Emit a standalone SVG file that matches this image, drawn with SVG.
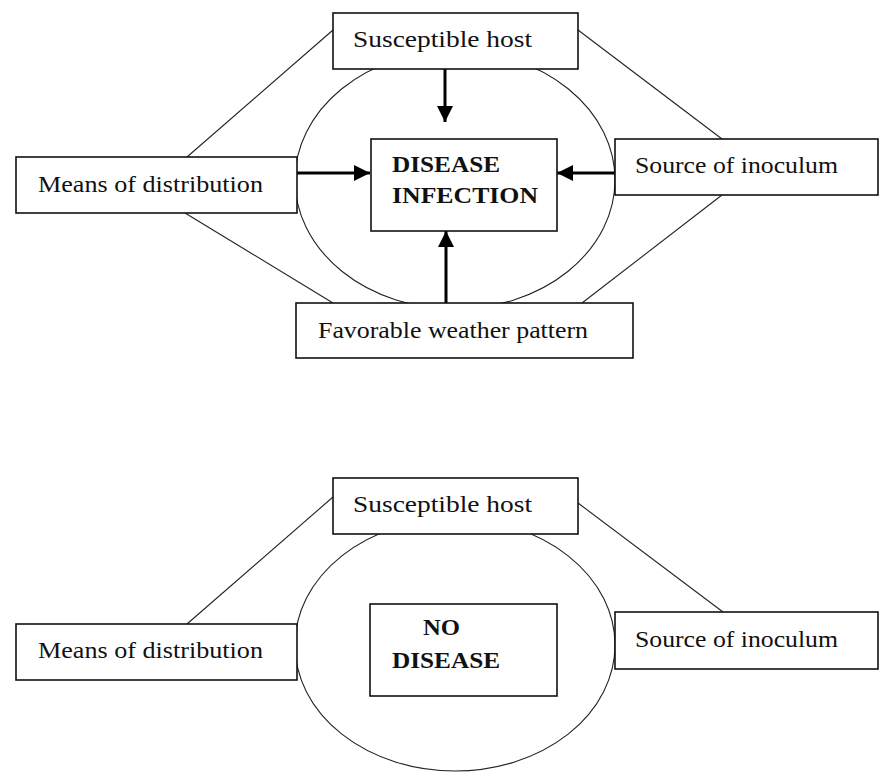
<svg xmlns="http://www.w3.org/2000/svg" width="880" height="772" viewBox="0 0 880 772">
<style>
.box{fill:#fff;stroke:#111;stroke-width:1.6}
.thin{fill:none;stroke:#222;stroke-width:1.1}
.arr{fill:none;stroke:#000;stroke-width:3;marker-end:url(#ah)}
.t{font-family:"Liberation Serif","Times New Roman",serif;font-size:24px;fill:#111}
.b{font-family:"Liberation Serif","Times New Roman",serif;font-size:24px;font-weight:bold;fill:#111}
</style>
<defs>
<marker id="ah" markerUnits="userSpaceOnUse" markerWidth="17" markerHeight="17" refX="16" refY="8" orient="auto">
<path d="M0,0 L16,8 L0,16 z" fill="#000"/>
</marker>
</defs>
<rect width="880" height="772" fill="#fff"/>
<g id="connectors">
<ellipse class="thin" cx="455" cy="180" rx="160" ry="129"/>
<ellipse class="thin" cx="455" cy="645" rx="160" ry="126"/>
<line class="thin" x1="187" y1="157" x2="333" y2="30"/>
<line class="thin" x1="185" y1="213" x2="333" y2="303"/>
<line class="thin" x1="578" y1="30" x2="722" y2="139"/>
<line class="thin" x1="722" y1="195" x2="582" y2="303"/>
<line class="thin" x1="187" y1="624" x2="333" y2="497"/>
<line class="thin" x1="578" y1="503" x2="723" y2="612"/>
<line class="arr" x1="445" y1="69" x2="445" y2="122"/>
<line class="arr" x1="297" y1="173" x2="370" y2="173"/>
<line class="arr" x1="615" y1="173" x2="557" y2="173"/>
<line class="arr" x1="446" y1="303" x2="446" y2="231"/>
</g>
<g id="host1"><rect class="box" x="333" y="13" width="245" height="56"/><text class="t" x="353" y="47" textLength="179" lengthAdjust="spacingAndGlyphs">Susceptible host</text></g>
<g id="means1"><rect class="box" x="16" y="157" width="281" height="56"/><text class="t" x="38" y="192" textLength="225" lengthAdjust="spacingAndGlyphs">Means of distribution</text></g>
<g id="disease1"><rect class="box" x="371" y="139" width="186" height="92"/><text class="b" x="392" y="172" textLength="108" lengthAdjust="spacingAndGlyphs">DISEASE</text><text class="b" x="392" y="203" textLength="146" lengthAdjust="spacingAndGlyphs">INFECTION</text></g>
<g id="source1"><rect class="box" x="615" y="139" width="263" height="56"/><text class="t" x="635" y="173" textLength="203" lengthAdjust="spacingAndGlyphs">Source of inoculum</text></g>
<g id="weather1"><rect class="box" x="296" y="303" width="337" height="55"/><text class="t" x="318" y="338" textLength="270" lengthAdjust="spacingAndGlyphs">Favorable weather pattern</text></g>
<g id="host2"><rect class="box" x="333" y="478" width="245" height="56"/><text class="t" x="353" y="512" textLength="179" lengthAdjust="spacingAndGlyphs">Susceptible host</text></g>
<g id="means2"><rect class="box" x="16" y="624" width="281" height="56"/><text class="t" x="38" y="658" textLength="225" lengthAdjust="spacingAndGlyphs">Means of distribution</text></g>
<g id="nodisease"><rect class="box" x="370" y="604" width="187" height="92"/><text class="b" x="423" y="635" textLength="37" lengthAdjust="spacingAndGlyphs">NO</text><text class="b" x="392" y="668" textLength="108" lengthAdjust="spacingAndGlyphs">DISEASE</text></g>
<g id="source2"><rect class="box" x="615" y="612" width="263" height="57"/><text class="t" x="635" y="647" textLength="203" lengthAdjust="spacingAndGlyphs">Source of inoculum</text></g>
</svg>
